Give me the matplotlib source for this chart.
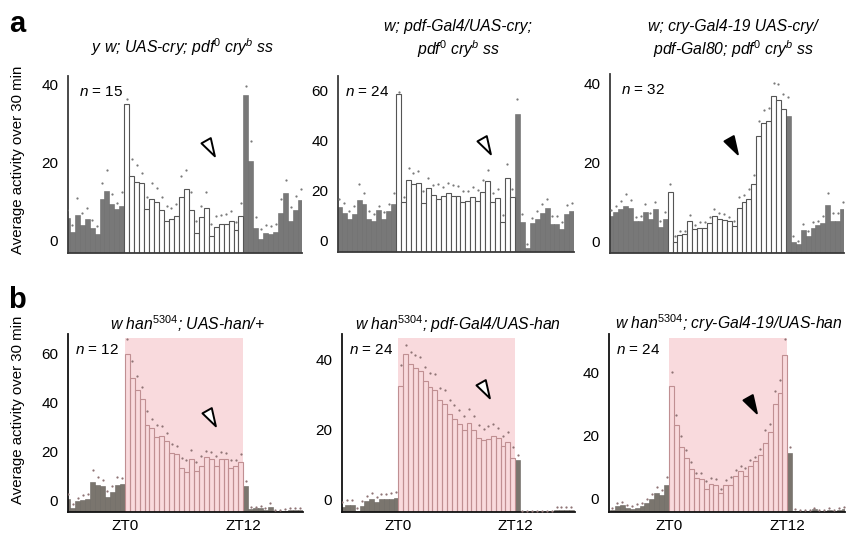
import matplotlib
matplotlib.use("Agg")
import matplotlib.pyplot as plt
import numpy as np
from matplotlib.path import Path

plt.rcParams['font.family'] = ['Liberation Sans', 'DejaVu Sans']
plt.rcParams['mathtext.fontset'] = 'custom'
plt.rcParams['mathtext.rm'] = 'Liberation Sans'
plt.rcParams['mathtext.it'] = 'Liberation Sans:italic'
plt.rcParams['mathtext.bf'] = 'Liberation Sans:bold'

# ---------------- data (48 half-hour bins, ZT18 .. ZT18 next day) ----------------
a1_vals = [5.8, 2.1, 6.6, 3.9, 5.5, 3.2, 1.5, 10.6, 12.6, 9.2, 8.0, 8.7,
           35.0, 16.5, 15.1, 14.7, 8.0, 10.6, 9.9, 7.8, 4.9, 5.4, 6.3, 11.2,
           13.2, 7.9, 1.9, 5.9, 8.2, 1.2, 3.4, 4.1, 4.2, 4.9, 2.7, 6.2,
           37.3, 20.4, 3.1, 0.3, 1.8, 1.6, 2.1, 7.0, 12.2, 5.0, 7.7, 10.3]
a1_sem = [2.0, 1.8, 4.2, 3.0, 2.7, 2.0, 2.2, 4.2, 5.6, 2.8, 1.7, 3.8,
          1.5, 4.4, 4.4, 2.5, 3.0, 4.1, 3.5, 3.2, 3.9, 3.0, 3.0, 5.3,
          4.8, 4.4, 3.0, 3.0, 4.1, 3.0, 2.9, 2.5, 2.5, 2.5, 2.0, 3.4,
          2.5, 5.2, 2.9, 2.5, 2.0, 2.0, 2.2, 3.7, 3.4, 3.5, 3.8, 3.0]

a2_vals = [13.1, 11.0, 8.6, 10.6, 16.2, 14.6, 8.6, 7.8, 11.9, 8.3, 11.6, 14.6,
           58.3, 15.1, 24.2, 22.3, 22.9, 14.7, 20.7, 18.0, 16.4, 17.6, 18.9, 17.7,
           17.6, 15.1, 15.6, 17.3, 15.6, 19.1, 23.6, 15.3, 16.9, 7.3, 24.9, 17.1,
           50.6, 7.2, -3.1, 7.0, 8.5, 11.0, 12.9, 6.6, 6.6, 4.6, 10.6, 11.5]
a2_sem = [3.3, 3.7, 3.0, 3.0, 6.2, 4.1, 3.0, 2.6, 1.8, 2.8, 3.0, 4.1,
          1.0, 2.2, 4.5, 4.5, 4.8, 5.0, 4.0, 4.0, 6.0, 3.8, 3.8, 4.5,
          4.0, 4.5, 4.0, 4.0, 4.5, 5.0, 4.4, 3.5, 3.5, 2.7, 5.5, 3.5,
          6.0, 3.1, 1.4, 1.9, 3.1, 3.4, 3.7, 3.1, 3.1, 2.7, 3.5, 3.5]

a3_vals = [6.5, 7.6, 8.4, 9.2, 8.6, 5.3, 5.3, 7.5, 5.8, 8.4, 3.8, 5.7,
           12.6, 0.0, 1.7, 1.9, 5.4, 3.2, 3.6, 3.6, 4.8, 6.5, 5.9, 5.5,
           5.3, 4.1, 8.6, 10.2, 10.9, 14.6, 26.9, 30.1, 30.7, 36.9, 35.9, 33.7,
           31.9, 0.0, -0.6, 2.9, 1.5, 3.5, 4.2, 4.9, 9.4, 5.4, 5.4, 8.4]
a3_sem = [1.5, 1.6, 1.9, 3.0, 1.9, 1.0, 1.2, 2.0, 1.6, 1.8, 1.4, 1.9,
          2.1, 1.6, 1.0, 0.8, 1.3, 1.2, 1.4, 1.4, 1.5, 1.9, 1.3, 1.6,
          1.1, 1.2, 2.8, 1.8, 2.6, 2.3, 3.7, 3.4, 3.3, 3.3, 4.0, 3.7,
          4.7, 1.4, 0.8, 1.7, 1.3, 1.5, 1.0, 1.6, 2.9, 1.8, 1.8, 1.8]

b1_vals = [0.6, -3.0, -0.5, 0.2, 0.5, 7.4, 6.3, 5.9, 1.2, 3.3, 6.4, 6.7,
           59.9, 49.8, 44.9, 41.4, 30.8, 29.6, 25.7, 26.2, 24.1, 19.1, 18.7, 13.3,
           11.5, 17.0, 11.8, 13.9, 17.7, 16.7, 14.1, 16.9, 17.0, 13.3, 13.9, 15.5,
           5.8, -3.7, -3.3, -3.2, -3.8, -2.6, -4.3, -4.4, -4.2, -4.0, -3.9, -4.1]
b1_sem = [2.0, 1.5, 1.5, 2.0, 2.0, 5.0, 3.0, 2.5, 2.5, 2.5, 3.0, 2.5,
          6.0, 7.0, 6.0, 5.0, 5.5, 3.5, 5.0, 4.0, 3.5, 4.0, 3.5, 4.0,
          5.0, 3.5, 4.0, 4.0, 2.5, 3.0, 4.0, 3.0, 2.5, 3.0, 2.5, 3.5,
          2.0, 0.8, 0.6, 0.8, 0.6, 1.6, 0.5, 0.5, 0.6, 0.8, 0.8, 0.8]

b2_vals = [-2.2, -1.8, -1.8, -3.3, -2.0, -0.6, 0.1, -0.8, -0.1, 0.0, 0.1, 0.4,
           32.3, 41.5, 38.5, 37.6, 36.6, 33.9, 32.0, 31.3, 28.4, 27.2, 24.2, 23.0,
           21.5, 19.7, 21.8, 19.8, 17.6, 17.0, 17.3, 17.9, 17.4, 15.1, 16.2, 11.8,
           11.3, -3.6, -3.6, -3.6, -3.6, -3.6, -3.6, -3.6, -3.2, -3.0, -3.1, -3.0]
b2_sem = [1.5, 1.5, 1.5, 0.8, 1.5, 1.5, 1.5, 1.5, 1.5, 1.5, 1.5, 1.5,
          6.0, 2.5, 3.5, 3.5, 4.0, 4.0, 4.0, 4.5, 3.5, 4.0, 4.0, 4.0,
          4.0, 4.0, 4.0, 4.0, 3.5, 3.0, 3.5, 3.5, 3.0, 3.0, 3.0, 3.0,
          1.2, 0.3, 0.3, 0.3, 0.3, 0.3, 0.3, 0.3, 0.8, 0.8, 0.8, 0.8]

b3_vals = [-3.5, -2.3, -2.1, -2.8, -3.1, -2.8, -2.3, -1.5, 0.0, 1.8, 1.3, 4.3,
           35.6, 23.5, 16.5, 12.8, 9.3, 6.7, 6.2, 3.0, 4.8, 4.2, 1.7, 4.5,
           4.5, 7.2, 8.8, 7.2, 10.5, 11.9, 13.8, 17.8, 21.1, 30.1, 33.6, 45.5,
           14.5, -3.8, -3.9, -4.0, -3.9, -3.3, -3.9, -4.0, -3.5, -3.9, -3.5, -3.3]
b3_sem = [0.5, 1.0, 1.0, 0.8, 0.8, 1.0, 1.0, 1.5, 1.5, 2.0, 1.5, 2.5,
          4.5, 3.0, 3.3, 2.5, 2.3, 1.5, 1.8, 2.6, 1.8, 1.9, 1.5, 1.3,
          2.3, 1.9, 1.7, 2.5, 1.8, 1.3, 2.0, 4.1, 2.5, 4.1, 4.1, 5.0,
          1.8, 0.4, 0.3, 0.3, 0.3, 0.4, 0.3, 0.3, 0.5, 0.3, 0.5, 0.6]

n_labels = ["15", "24", "32", "12", "24", "24"]
y_ticks = [[0, 20, 40], [0, 20, 40, 60], [0, 20, 40],
           [0, 20, 40, 60], [0, 20, 40], [0, 20, 40]]
x_tick_pos = [11.5, 35.5]
x_tick_lab = ["ZT0", "ZT12"]

# ---------------- layout (pixels) ----------------
W, H = 846, 535
fig = plt.figure(figsize=(W / 100, H / 100), dpi=100)

def add_ax(l, r, t, b):
    return fig.add_axes([l / W, 1 - b / H, (r - l) / W, (b - t) / H])

panels = [
    dict(vals=a1_vals, sem=a1_sem, box=(68, 302, 76, 253), ylim=(-3.3, 42.3), xlim=(0.15, 47.3),
         row='a', arrow=(28.8, 23.7), filled=False),
    dict(vals=a2_vals, sem=a2_sem, box=(338, 574, 76, 252), ylim=(-4.7, 65.6), xlim=(-0.25, 47.45),
         row='a', arrow=(29.7, 37.6), filled=False),
    dict(vals=a3_vals, sem=a3_sem, box=(610, 844, 74, 253), ylim=(-2.8, 42.5), xlim=(-0.2, 47.3),
         row='a', arrow=(24.75, 24.2), filled=True),
    dict(vals=b1_vals, sem=b1_sem, box=(68, 303, 334, 512), ylim=(-4.8, 67.9), xlim=(0.0, 47.6),
         row='b', arrow=(28.9, 33.6), filled=False),
    dict(vals=b2_vals, sem=b2_sem, box=(342, 575, 334, 512), ylim=(-3.7, 47.2), xlim=(-0.1, 47.8),
         row='b', arrow=(29.4, 31.2), filled=False),
    dict(vals=b3_vals, sem=b3_sem, box=(609, 845, 334, 512), ylim=(-4.2, 52.2), xlim=(-0.7, 47.2),
         row='b', arrow=(28.4, 29.7), filled=True),
]

# arrowhead marker (narrow triangle pointing down-right)
u = np.array([0.49, -0.87])
v = np.array([0.87, 0.49])
tip = 0.5 * u
bc = -0.5 * u
arrow_path = Path([tip, bc + 0.3 * v, bc - 0.3 * v, tip], closed=True)

pink = '#f9dadd'
for i, p in enumerate(panels):
    ax = add_ax(*p['box'])
    vals = np.array(p['vals'])
    sem = np.array(p['sem'])
    x = np.arange(len(vals))
    day = (x >= 12) & (x <= 35)
    ymin = p['ylim'][0]
    if p['row'] == 'a':
        gcol, gedge = '#787878', '#6a6a6a'
        dface, dedge = 'white', '#555555'
        dotc = '#7a7a7a'
        spc = '#3a3a3a'
    else:
        gcol, gedge = '#7a756e', '#6b6660'
        dface, dedge = 'none', '#c08f92'
        dotc = '#8f7475'
        spc = '#111111'
        ax.axvspan(11.5, 35.5, ymin=0, ymax=0.98, color=pink, lw=0, zorder=0)
    ax.bar(x[~day], vals[~day] - ymin, bottom=ymin, width=1.0, color=gcol,
           edgecolor=gedge, linewidth=0.4, zorder=2)
    ax.bar(x[day], vals[day] - ymin, bottom=ymin, width=1.0, facecolor=dface,
           edgecolor=dedge, linewidth=0.8, zorder=2)
    ax.scatter(x, vals + sem, s=2.6, color=dotc, linewidths=0, zorder=3)
    ax.set_xlim(*p['xlim'])
    ax.set_ylim(*p['ylim'])
    ax.set_yticks(y_ticks[i])
    ax.tick_params(axis='y', length=0, pad=7, labelsize=11)
    if p['row'] == 'b':
        ax.set_xticks(x_tick_pos)
        ax.set_xticklabels(x_tick_lab)
        ax.tick_params(axis='x', length=0, pad=5, labelsize=11)
    else:
        ax.set_xticks([])
    for s in ['top', 'right']:
        ax.spines[s].set_visible(False)
    for s in ['left', 'bottom']:
        ax.spines[s].set_color(spc)
        ax.spines[s].set_linewidth(1.3)
    ax.patch.set_alpha(0)
    ax.text(0.045 if i in (0, 2) else 0.028, 0.91, r"$\mathit{n}$ = " + n_labels[i],
            transform=ax.transAxes, fontsize=11, va='center', ha='left', zorder=5)
    ax.plot([p['arrow'][0]], [p['arrow'][1]], marker=arrow_path, markersize=15,
            markerfacecolor='black' if p['filled'] else 'white',
            markeredgecolor='black', markeredgewidth=1.4, zorder=6)

def ftext(xp, yp, s, **kw):
    fig.text(xp / W, 1 - yp / H, s, **kw)

tkw = dict(fontsize=11.3, style='italic', ha='center', va='baseline')
ftext(183, 53, r"y w; UAS-cry; pdf$^{\mathit{0}}$ cry$^{\mathit{b}}$ ss", **tkw)
ftext(458, 31, r"w; pdf-Gal4/UAS-cry;", **tkw)
ftext(458, 55, r"pdf$^{\mathit{0}}$ cry$^{\mathit{b}}$ ss", **tkw)
ftext(733, 31, r"w; cry-Gal4-19 UAS-cry/", **tkw)
ftext(733, 55, r"pdf-Gal80; pdf$^{\mathit{0}}$ cry$^{\mathit{b}}$ ss", **tkw)
ftext(187, 330, r"w han$^{\mathit{5304}}$; UAS-han/+", **tkw)
ftext(458, 330, r"w han$^{\mathit{5304}}$; pdf-Gal4/UAS-han", **tkw)
ftext(729, 329, r"w han$^{\mathit{5304}}$; cry-Gal4-19/UAS-han", **tkw)

ftext(17, 24, "a", fontsize=21, fontweight='bold', ha='center', va='center')
ftext(17, 300, "b", fontsize=21, fontweight='bold', ha='center', va='center')
ftext(18, 160, "Average activity over 30 min", fontsize=10.8, rotation=90, ha='center', va='center')
ftext(18, 410, "Average activity over 30 min", fontsize=10.8, rotation=90, ha='center', va='center')

fig.savefig("out.png", dpi=100)
